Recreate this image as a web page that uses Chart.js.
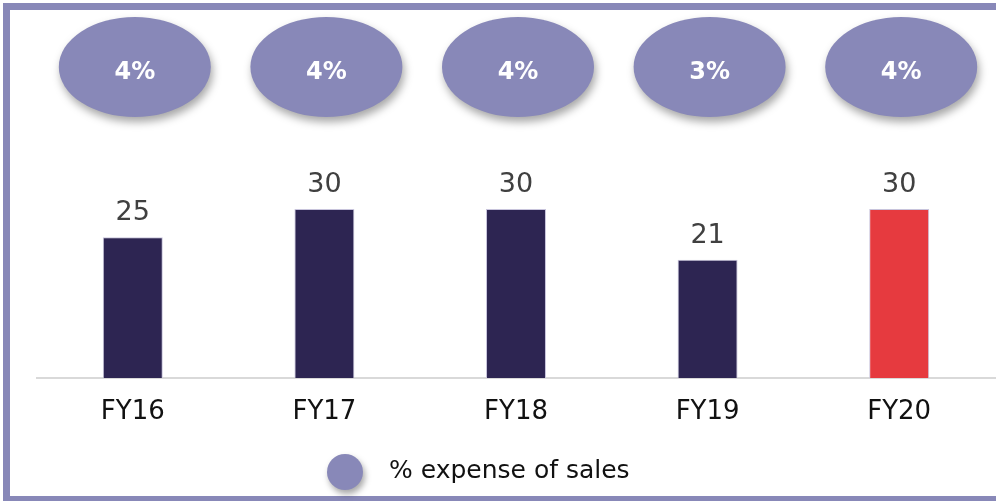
<!DOCTYPE html>
<html>
<head>
<meta charset="utf-8">
<script src="https://cdn.jsdelivr.net/npm/chart.js@4.4.0/dist/chart.umd.min.js"></script>
<style>
  html, body { margin: 0; padding: 0; background: #fff; }
  #wrap { width: 996px; height: 501px; position: relative; }
</style>
</head>
<body>
<div id="wrap"><canvas id="chart" width="996" height="501"></canvas></div>
<script>
var categories = ["FY16", "FY17", "FY18", "FY19", "FY20"];
var expense = [25, 30, 30, 21, 30];
var pctOfSales = ["4%", "4%", "4%", "3%", "4%"];
var barColors = ["#2d2552", "#2d2552", "#2d2552", "#2d2552", "#e63a3f"];
var legendLabel = "% expense of sales";

var PURPLE = "#8888b8";

// cadre + ellipses + legende + etiquettes
var decorPlugin = {
    id: "decor",
    beforeDraw: function (chart) {
        var ctx = chart.ctx;
        ctx.save();
        ctx.fillStyle = PURPLE;
        ctx.fillRect(3, 3, 993, 7);   // haut
        ctx.fillRect(3, 3, 7, 498);   // gauche
        ctx.fillRect(3, 496, 993, 5); // bas
        ctx.restore();
    },
    afterDraw: function (chart) {
        var ctx = chart.ctx;
        var xs = chart.scales.x;
        var meta = chart.getDatasetMeta(0);
        ctx.save();

        categories.forEach(function (c, i) {
            var cx = xs.getPixelForValue(i) + 2;
            // ellipse avec ombre
            ctx.save();
            ctx.shadowColor = "rgba(0,0,0,0.35)";
            ctx.shadowBlur = 8;
            ctx.shadowOffsetX = 2;
            ctx.shadowOffsetY = 5;
            ctx.fillStyle = PURPLE;
            ctx.beginPath();
            ctx.ellipse(cx, 67, 76, 50, 0, 0, Math.PI * 2);
            ctx.fill();
            ctx.restore();

            ctx.fillStyle = "#ffffff";
            ctx.font = "bold 24px 'DejaVu Sans'";
            ctx.textAlign = "center";
            ctx.textBaseline = "middle";
            ctx.fillText(pctOfSales[i], cx, 73);

            // valeur au-dessus de la barre
            var bar = meta.data[i];
            ctx.fillStyle = "#404040";
            ctx.font = "27px 'DejaVu Sans'";
            ctx.textBaseline = "alphabetic";
            ctx.fillText(expense[i], bar.x, bar.y - 17);
        });

        // legende
        ctx.save();
        ctx.shadowColor = "rgba(0,0,0,0.35)";
        ctx.shadowBlur = 6;
        ctx.shadowOffsetX = 2;
        ctx.shadowOffsetY = 4;
        ctx.fillStyle = PURPLE;
        ctx.beginPath();
        ctx.arc(345, 472, 18, 0, Math.PI * 2);
        ctx.fill();
        ctx.restore();

        ctx.fillStyle = "#111111";
        ctx.font = "25px 'DejaVu Sans'";
        ctx.textAlign = "left";
        ctx.textBaseline = "middle";
        ctx.fillText(legendLabel, 389, 471);

        ctx.restore();
    }
};

new Chart(document.getElementById("chart"), {
    type: "bar",
    data: {
        labels: categories,
        datasets: [{
            label: "expense",
            data: expense,
            backgroundColor: barColors,
            borderColor: "#c8c4dc",
            borderWidth: 1,
            categoryPercentage: 1,
            barPercentage: 0.313
        }]
    },
    options: {
        responsive: false,
        animation: false,
        layout: { padding: { left: 37, right: 1, top: 40, bottom: 0 } },
        plugins: {
            legend: { display: false },
            tooltip: { enabled: false }
        },
        scales: {
            x: {
                grid: { display: false, drawTicks: false },
                border: { display: true, color: "#d9d9d9", width: 2 },
                ticks: {
                    color: "#111111",
                    font: { family: "'DejaVu Sans'", size: 26 },
                    padding: 19
                },
                afterFit: function (s) { s.height = 123; }
            },
            y: {
                display: false,
                min: 0,
                max: 60
            }
        }
    },
    plugins: [decorPlugin]
});
</script>
</body>
</html>
